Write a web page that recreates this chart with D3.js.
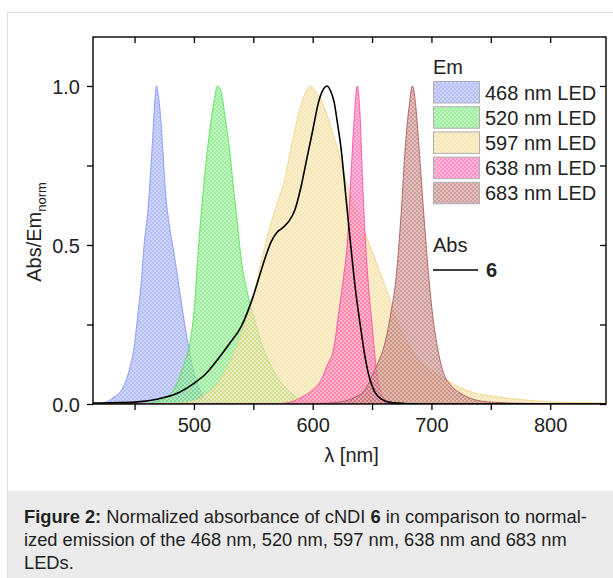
<!DOCTYPE html>
<html><head><meta charset="utf-8">
<script src="https://cdn.jsdelivr.net/npm/d3@7"></script>
<style>
html,body{margin:0;padding:0;background:#fff;}
svg{display:block;font-family:"Liberation Sans",Arial,sans-serif;}
</style></head>
<body>
<svg id="chart" width="613" height="578"></svg>
<script>
// ---- data ----
const seriesNames = ["468 nm LED","520 nm LED","597 nm LED","638 nm LED","683 nm LED"];
const wl468 = [415,425,432,440,445,450,453,456,458,461,463,465,467,468.5,470,472,474,476,479,483,487,491,495,500,505,510,520,540,600,847];
const em468 = [0,0.005,0.02,0.05,0.10,0.19,0.29,0.40,0.50,0.60,0.70,0.82,0.95,1.0,0.97,0.90,0.79,0.67,0.57,0.48,0.38,0.28,0.19,0.10,0.045,0.02,0.006,0.002,0,0];
const wl520 = [415,460,470,480,487,492,496,500,504,508,512,516,520,523,527,530,533,536,540,545,550,558,565,572,580,590,600,620,847];
const em520 = [0,0.002,0.01,0.03,0.075,0.13,0.18,0.29,0.50,0.68,0.82,0.93,1.0,0.98,0.88,0.80,0.69,0.59,0.45,0.35,0.28,0.18,0.12,0.075,0.04,0.015,0.006,0.002,0];
const wl597 = [415,490,500,510,520,530,540,545,550,555,560,565,570,576,582,588,594,598,603,608,612,617,622,628,634,640,646,652,658,664,670,680,690,700,713,725,737,750,775,800,847];
const em597 = [0,0.003,0.01,0.03,0.065,0.13,0.22,0.28,0.34,0.42,0.50,0.57,0.63,0.70,0.81,0.91,0.98,1.0,0.98,0.95,0.91,0.85,0.79,0.70,0.64,0.58,0.52,0.46,0.40,0.34,0.27,0.19,0.14,0.105,0.075,0.05,0.034,0.025,0.014,0.007,0.003];
const wl638 = [415,570,580,590,600,607,612,618,622,626,629,632,635,637.5,640,642,644.6,647,650,653,657,662,670,700,847];
const em638 = [0,0.001,0.005,0.02,0.045,0.075,0.12,0.18,0.29,0.40,0.50,0.70,0.90,1.0,0.90,0.70,0.50,0.37,0.25,0.13,0.04,0.012,0.003,0,0];
const wl683 = [415,600,620,635,645,650,655,660,666,670,674.5,678,681,684,687,689.5,693.5,698,701,705,710,716,724,735,750,780,847];
const em683 = [0,0.001,0.005,0.02,0.05,0.09,0.13,0.18,0.29,0.39,0.60,0.81,0.93,1.0,0.93,0.81,0.60,0.39,0.28,0.18,0.10,0.06,0.035,0.015,0.006,0.002,0];
const wlAbs = [415,430,450,470,485,500,510,520,530,540,550,555,560,565,570,575,580,585,590,595,600,605,609,612,615,618,621,624,628,632,636,640,644,648,652,658,665,680,700,847];
const abs6 = [0.003,0.004,0.006,0.016,0.032,0.065,0.095,0.14,0.19,0.245,0.34,0.40,0.46,0.51,0.54,0.555,0.575,0.61,0.68,0.77,0.86,0.95,0.99,1.0,0.985,0.95,0.88,0.80,0.65,0.50,0.36,0.25,0.15,0.08,0.04,0.015,0.005,0.001,0,0];
const xTicksMajor = [500,600,700,800];
const xTicksAll = [450,500,550,600,650,700,750,800];
const yTicksMajor = [0,0.5,1.0];
const yTicksAll = [0,0.25,0.5,0.75,1.0];

const emWl = [wl468,wl520,wl597,wl638,wl683];
const emVal = [em468,em520,em597,em638,em683];
const fillCols = ["#8797f4","#62e462","#f2d689","#ff4fa3","#b46262"];
const lineCols = ["#7d8ef2","#4fdc4f","#efd17a","#ff3f99","#a85050"];

// ---- layout ----
const svg = d3.select("#chart");
const L = 93, R = 606, T = 37, B = 404;
const x = d3.scaleLinear().domain([415,847]).range([L,R]);
const y = d3.scaleLinear().domain([0,1.154]).range([B,T]);

// panel + caption
svg.append("rect").attr("x",7.5).attr("y",12.5).attr("width",640).attr("height",600)
  .attr("fill","#fff").attr("stroke","#dedede");
svg.append("rect").attr("x",8).attr("y",491).attr("width",605).attr("height",87).attr("fill","#ebebeb");

// patterns
const defs = svg.append("defs");
fillCols.forEach((c,i)=>{
  const p = defs.append("pattern").attr("id","pat"+i).attr("patternUnits","userSpaceOnUse")
    .attr("width",4).attr("height",4);
  p.append("rect").attr("width",4).attr("height",4).attr("fill",c).attr("fill-opacity",0.62);
  p.append("rect").attr("x",0).attr("y",0).attr("width",2).attr("height",2).attr("fill","#fff").attr("fill-opacity",0.35);
  p.append("rect").attr("x",2).attr("y",2).attr("width",2).attr("height",2).attr("fill","#fff").attr("fill-opacity",0.35);
});
defs.append("clipPath").attr("id","clip").append("rect").attr("x",L).attr("y",T).attr("width",R-L).attr("height",B-T);

const g = svg.append("g").attr("clip-path","url(#clip)");
const area = d3.area().x(d=>x(d[0])).y0(y(0)).y1(d=>y(d[1])).curve(d3.curveMonotoneX);
const line = d3.line().x(d=>x(d[0])).y(d=>y(d[1])).curve(d3.curveMonotoneX);

emWl.forEach((w,i)=>{
  const pts = w.map((v,j)=>[v,emVal[i][j]]);
  g.append("path").attr("d",area(pts)).attr("fill","url(#pat"+i+")")
    .attr("stroke",lineCols[i]).attr("stroke-width",1).attr("stroke-opacity",0.8);
});
g.append("path").attr("d",line(wlAbs.map((v,j)=>[v,abs6[j]])))
  .attr("fill","none").attr("stroke","#000").attr("stroke-width",1.6);

// axes
const fs = "20px";
const axB = svg.append("g").attr("transform",`translate(0,${B})`)
  .call(d3.axisBottom(x).tickValues(xTicksAll).tickSize(6).tickFormat(d=>xTicksMajor.includes(d)?d:""));
const axT = svg.append("g").attr("transform",`translate(0,${T})`)
  .call(d3.axisTop(x).tickValues(xTicksAll).tickSize(-6).tickFormat(""));
const axL = svg.append("g").attr("transform",`translate(${L},0)`)
  .call(d3.axisLeft(y).tickValues(yTicksAll).tickSize(6).tickFormat(d=>yTicksMajor.includes(d)?d3.format(".1f")(d):""));
const axR = svg.append("g").attr("transform",`translate(${R},0)`)
  .call(d3.axisRight(y).tickValues(yTicksAll).tickSize(-6).tickFormat(""));
[axB,axT,axL,axR].forEach(a=>{
  a.select(".domain").remove();
  a.selectAll(".tick line").attr("stroke","#000").attr("stroke-width",1.3);
  a.selectAll("text").attr("font-family","Liberation Sans, Arial, sans-serif").attr("font-size",fs).attr("fill","#222");
});
axB.selectAll("text").attr("dy","0").attr("y",28);
axL.selectAll("text").attr("x",-13).attr("dy","0.36em");
svg.append("rect").attr("x",L).attr("y",T).attr("width",R-L).attr("height",B-T)
  .attr("fill","none").attr("stroke","#000").attr("stroke-width",1.4);

// axis titles
svg.append("text").attr("x",(L+R)/2+2).attr("y",462).attr("text-anchor","middle")
  .attr("font-size",fs).attr("fill","#222").text("λ [nm]");
const yt = svg.append("text").attr("transform","translate(41,232) rotate(-90)")
  .attr("text-anchor","middle").attr("font-size",fs).attr("fill","#222");
yt.append("tspan").text("Abs/Em");
yt.append("tspan").attr("font-size","13px").attr("dy","5").text("norm");

// legend
svg.append("text").attr("x",433).attr("y",74).attr("font-size",fs).attr("fill","#222").text("Em");
seriesNames.forEach((n,i)=>{
  const yy = 81.5 + i*25.2;
  svg.append("rect").attr("x",433.5).attr("y",yy).attr("width",46).attr("height",21.5)
    .attr("fill","url(#pat"+i+")").attr("stroke","#b0b0b0").attr("stroke-width",1);
  svg.append("text").attr("x",485).attr("y",yy+18).attr("font-size",fs).attr("fill","#222").text(n);
});
svg.append("text").attr("x",433).attr("y",252).attr("font-size",fs).attr("fill","#222").text("Abs");
svg.append("line").attr("x1",433).attr("x2",478).attr("y1",270).attr("y2",270).attr("stroke","#000").attr("stroke-width",1.6);
svg.append("text").attr("x",486).attr("y",277).attr("font-size",fs).attr("font-weight","bold").attr("fill","#222").text("6");

// caption
const capLines = [
  [["Figure 2:",true],[" Normalized absorbance of cNDI ",false],["6",true],[" in comparison to normal-",false]],
  [["ized emission of the 468 nm, 520 nm, 597 nm, 638 nm and 683 nm",false]],
  [["LEDs.",false]]
];
capLines.forEach((ln,i)=>{
  const t = svg.append("text").attr("x",24).attr("y",522.5+i*23.3).attr("font-size","18.3px").attr("fill","#222");
  ln.forEach(s=>t.append("tspan").attr("font-weight",s[1]?"bold":"normal").text(s[0]));
});
</script>
</body></html>
